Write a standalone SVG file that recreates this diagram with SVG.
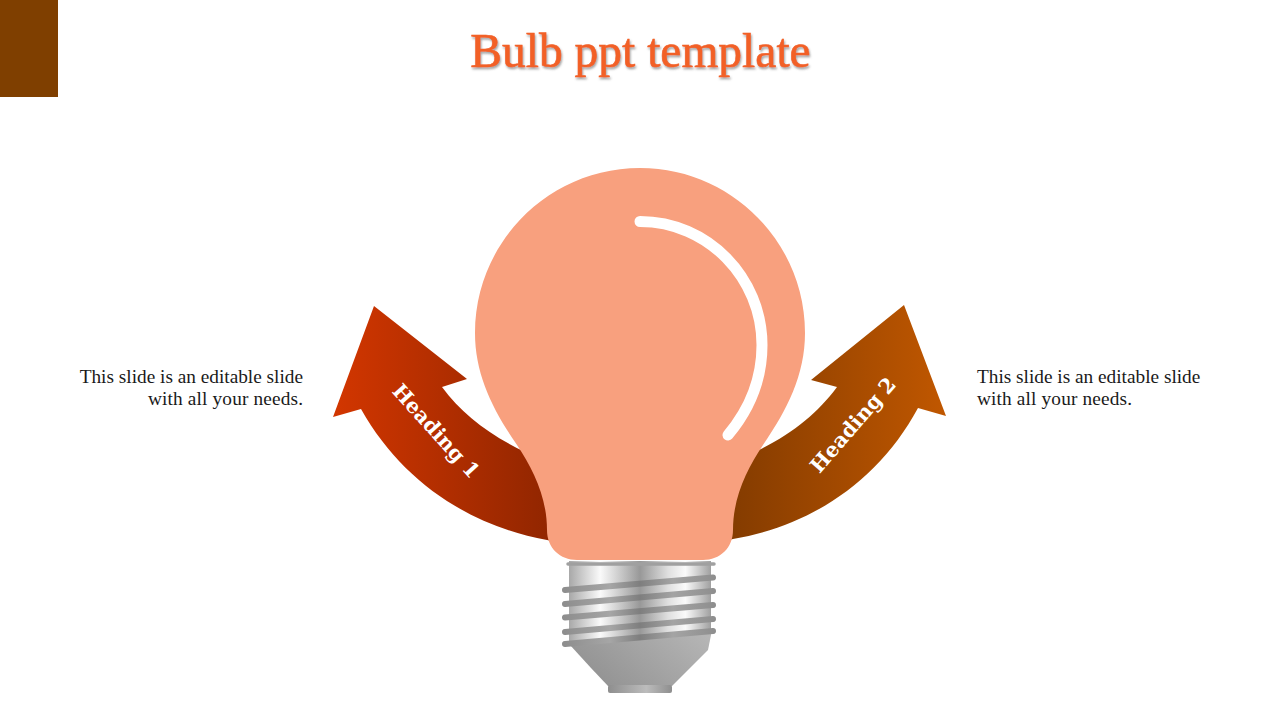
<svg xmlns="http://www.w3.org/2000/svg" width="1280" height="720" viewBox="0 0 1280 720">
<style>
.t{font-family:"Liberation Serif","DejaVu Serif",serif;fill:#1a1a1a;font-size:19.300px}
.h{font-family:"DejaVu Serif","Liberation Serif",serif;fill:#fff;font-size:20.500px;font-weight:bold;text-anchor:middle}
.th{fill:none;stroke:url(#thread);stroke-width:6;stroke-linecap:round}
</style>
<defs>
<linearGradient id="metal" x1="0" y1="0" x2="1" y2="0">
<stop offset="0" stop-color="#a8a8a8"/><stop offset=".22" stop-color="#fafafa"/><stop offset=".32" stop-color="#d8d8d8"/><stop offset=".5" stop-color="#989898"/><stop offset=".7" stop-color="#e0e0e0"/><stop offset=".82" stop-color="#fafafa"/><stop offset="1" stop-color="#a0a0a0"/>
</linearGradient>
<linearGradient id="thread" gradientUnits="userSpaceOnUse" x1="565" y1="0" x2="715" y2="0">
<stop offset="0" stop-color="#8e8e8e"/><stop offset=".3" stop-color="#a6a6a6"/><stop offset=".5" stop-color="#7e7e7e"/><stop offset=".72" stop-color="#a4a4a4"/><stop offset="1" stop-color="#8e8e8e"/>
</linearGradient>
<linearGradient id="cone" x1="0" y1="1" x2="1" y2="0">
<stop offset="0" stop-color="#8c8c8c"/><stop offset="1" stop-color="#c8c8c8"/>
</linearGradient>
<linearGradient id="cap" x1="0" y1="0" x2="1" y2="0">
<stop offset="0" stop-color="#8e8e8e"/><stop offset=".6" stop-color="#bcbcbc"/><stop offset="1" stop-color="#8e8e8e"/>
</linearGradient>
<linearGradient id="gl" gradientUnits="userSpaceOnUse" x1="335" y1="400" x2="547" y2="400">
<stop offset="0" stop-color="#d23600"/><stop offset="1" stop-color="#922600"/>
</linearGradient>
<linearGradient id="gr" gradientUnits="userSpaceOnUse" x1="945" y1="400" x2="735" y2="400">
<stop offset="0" stop-color="#c05700"/><stop offset="1" stop-color="#853c00"/>
</linearGradient>
<filter id="sh" x="-5%" y="-20%" width="110%" height="150%"><feDropShadow dx="1" dy="2" stdDeviation="1.2" flood-color="#555" flood-opacity=".55"/></filter>
</defs>
<rect id="corner" x="0" y="0" width="58" height="97" fill="#7f3f00"/>
<text id="title" x="640.500" y="67" text-anchor="middle" font-family="'Liberation Serif','DejaVu Serif',serif" font-size="47.500" fill="#f26028" stroke="#f26028" stroke-width=".6" filter="url(#sh)">Bulb ppt template</text>
<g id="connectors">
<path id="arrow-left" d="M374 306L467 379L442 387C462 414 488 434 525 452L570 460V545L547 540C470 526 402 482 361 409L333 417Z" fill="url(#gl)"/>
<path id="arrow-right" d="M904 305L811 380L837 387C817 414 792 434 755 452L710 460V545L733 539C810 526 878 482 918 408L946 416Z" fill="url(#gr)"/>
</g>
<g id="bulb">
<path d="M640 168C549 168 475 242 475 333C475 375 493 410 517 445C533 469 547 497 547 530C547 548 560 560 577 560H703C720 560 733 548 733 530C733 497 747 469 763 445C787 410 805 375 805 333C805 242 731 168 640 168Z" fill="#f8a07e"/>
<path d="M640 221.500C708 221.500 762 278 762 345C762 380 749 410 728 435" fill="none" stroke="#fff" stroke-width="11" stroke-linecap="round"/>
</g>
<g id="base">
<path d="M569 561H711V635L708 650L690 668L672 686H608L591 668L570 645Z" fill="url(#cone)"/>
<path d="M569 561H711V630L569 643Z" fill="url(#metal)"/>
<path d="M568 564H714" stroke="#a0a0a0" stroke-width="3.500" stroke-linecap="round"/>
<path class="th" d="M565 590L713 577.500"/>
<path class="th" d="M565 604L713 591"/>
<path class="th" d="M565 617.500L713 605"/>
<path class="th" d="M565 632L713 619"/>
<path class="th" d="M565 644L713 631"/>
<path d="M591 668.500H690" stroke="url(#metal)" stroke-width="2.500"/>
<rect x="608" y="685" width="64" height="8" rx="2" fill="url(#cap)"/>
<path d="M609 685H671" stroke="url(#metal)" stroke-width="1.500"/>
</g>
<g id="label-left">
<text class="h" transform="translate(436 431) rotate(48)" x="0" y="7">Heading 1</text>
<text class="t" text-anchor="end" x="303" y="383">This slide is an editable slide</text>
<text class="t" text-anchor="end" x="303" y="405" textLength="155">with all your needs.</text>
</g>
<g id="label-right">
<text class="h" transform="translate(853 425) rotate(-49)" x="0" y="7">Heading 2</text>
<text class="t" x="977" y="383">This slide is an editable slide</text>
<text class="t" x="977" y="405" textLength="155">with all your needs.</text>
</g>
</svg>
